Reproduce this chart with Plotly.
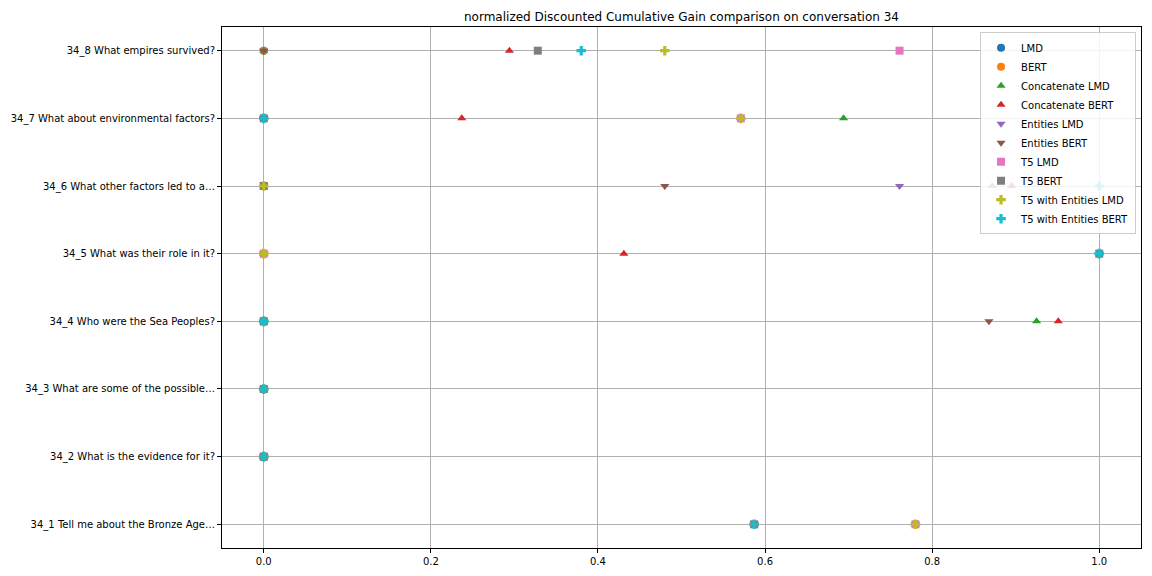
import plotly.graph_objects as go

questions = [
    "34_1 Tell me about the Bronze Age…",
    "34_2 What is the evidence for it?",
    "34_3 What are some of the possible…",
    "34_4 Who were the Sea Peoples?",
    "34_5 What was their role in it?",
    "34_6 What other factors led to a…",
    "34_7 What about environmental factors?",
    "34_8 What empires survived?",
]

lmd = [0.780, 0, 0, 0, 0, 0, 0, 0]
bert = [0.587, 0, 0, 0, 0, 0, 0, 0]
concat_lmd = [0.780, 0, 0, 0.925, 0, 0.872, 0.694, 0]
concat_bert = [0.587, 0, 0, 0.951, 0.431, 0.895, 0.237, 0.294]
entities_lmd = [0.780, 0, 0, 0, 0, 0.761, 0, 0]
entities_bert = [0.587, 0, 0, 0.868, 0, 0.480, 0, 0]
t5_lmd = [0.780, 0, 0, 0, 0, 0, 0.571, 0.761]
t5_bert = [0.587, 0, 0, 0, 1.0, 0, 0, 0.328]
t5_ent_lmd = [0.780, 0, 0, 0, 0, 0, 0.571, 0.480]
t5_ent_bert = [0.587, 0, 0, 0, 1.0, 1.0, 0, 0.380]

series_names = ["LMD", "BERT", "Concatenate LMD", "Concatenate BERT", "Entities LMD",
                "Entities BERT", "T5 LMD", "T5 BERT", "T5 with Entities LMD", "T5 with Entities BERT"]
series_values = [lmd, bert, concat_lmd, concat_bert, entities_lmd, entities_bert,
                 t5_lmd, t5_bert, t5_ent_lmd, t5_ent_bert]
colors = ["#1f77b4", "#ff7f0e", "#2ca02c", "#d62728", "#9467bd",
          "#8c564b", "#e377c2", "#7f7f7f", "#bcbd22", "#17becf"]
symbols = ["circle", "circle", "triangle-up", "triangle-up", "triangle-down",
           "triangle-down", "square", "square", "cross", "cross"]

fig = go.Figure()
for name, vals, c, s in zip(series_names, series_values, colors, symbols):
    fig.add_trace(go.Scatter(
        x=vals, y=questions, mode="markers", name=name,
        marker=dict(color=c, symbol=s, size=8, line=dict(width=0)),
    ))

fig.update_layout(
    width=1152, height=576,
    paper_bgcolor="white", plot_bgcolor="white",
    font=dict(family="DejaVu Sans", size=10, color="black"),
    title=dict(text="normalized Discounted Cumulative Gain comparison on conversation 34",
               x=(222 + 1141) / 2 / 1152, xanchor="center",
               y=1 - 17 / 576, yanchor="middle", font=dict(size=12)),
    margin=dict(l=222, r=11, t=27, b=28, autoexpand=False),
    showlegend=True,
    legend=dict(x=0.9946, y=0.99, xanchor="right", yanchor="top",
                bgcolor="rgba(255,255,255,0.85)", bordercolor="#cccccc", borderwidth=1,
                font=dict(size=10), tracegroupgap=0, itemsizing="trace"),
    xaxis=dict(range=[-0.05, 1.05], tickvals=[0, 0.2, 0.4, 0.6, 0.8, 1.0],
               ticktext=["0.0", "0.2", "0.4", "0.6", "0.8", "1.0"],
               showgrid=True, gridcolor="#b0b0b0", gridwidth=1, zeroline=False,
               showline=True, linecolor="black", mirror=True, ticks="outside",
               ticklen=4, tickcolor="black", automargin=False),
    yaxis=dict(type="category", categoryorder="array", categoryarray=questions,
               range=[-0.35, 7.35], showgrid=True, gridcolor="#b0b0b0", gridwidth=1,
               zeroline=False, showline=True, linecolor="black", mirror=True,
               ticks="outside", ticklen=4, tickcolor="black", automargin=False),
)

fig.write_html(
    "out.html",
    config={"displayModeBar": False},
    post_script="document.documentElement.style.margin='0';document.body.style.margin='0';"
                "document.body.style.padding='0';document.body.style.overflow='hidden';",
)
